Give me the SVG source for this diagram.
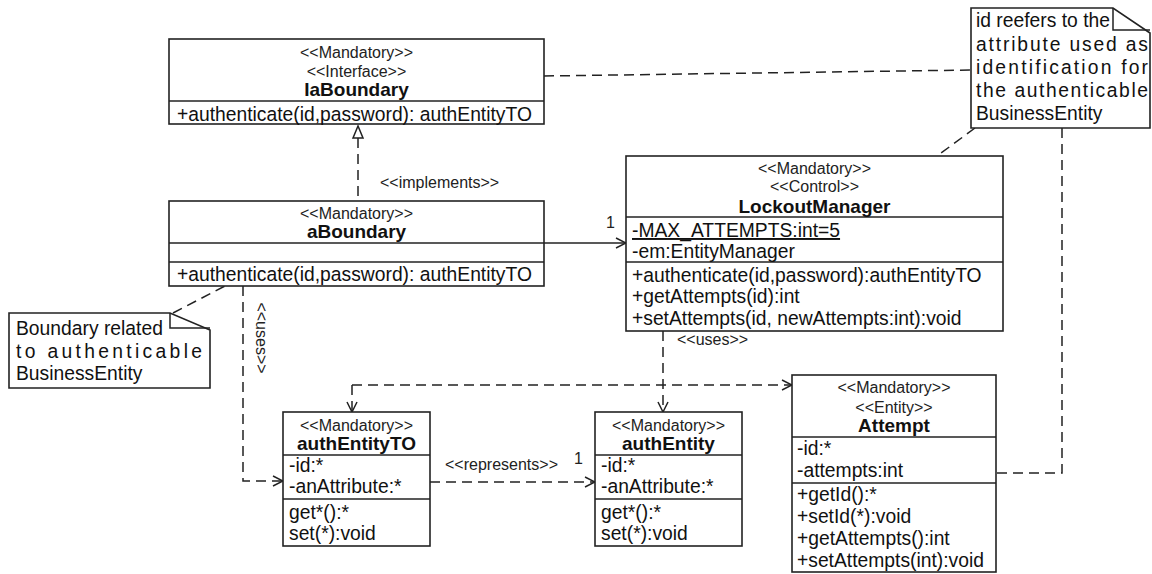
<svg xmlns="http://www.w3.org/2000/svg" width="1152" height="574" viewBox="0 0 1152 574">
  <style>
    .box{fill:#fff;stroke:#222;stroke-width:1.6}
    .sep{stroke:#222;stroke-width:1.6}
    .st{font-family:"Liberation Sans",Arial,sans-serif;font-size:16px;fill:#222;text-anchor:middle}
    .tt{font-family:"Liberation Sans",Arial,sans-serif;font-size:19px;font-weight:bold;fill:#111;text-anchor:middle}
    .m{font-family:"Liberation Sans",Arial,sans-serif;font-size:19.3px;fill:#111}
    .lbl{font-family:"Liberation Sans",Arial,sans-serif;font-size:16px;fill:#222}
    .dash{fill:none;stroke:#222;stroke-width:1.5;stroke-dasharray:10 6}
    .solid{fill:none;stroke:#222;stroke-width:1.5}
  </style>
  <defs>
    <marker id="open" viewBox="0 0 12 12" refX="11" refY="6" markerWidth="12" markerHeight="12" markerUnits="userSpaceOnUse" orient="auto">
      <path d="M1,1 L11,6 L1,11" fill="none" stroke="#222" stroke-width="1.5"/>
    </marker>
  </defs>
  <rect width="1152" height="574" fill="#fff"/>

  <!-- connectors -->
  <g id="connectors">
    <!-- note links -->
    <path class="dash" d="M544,76 L971,70"/>
    <path class="dash" d="M975,128 L937,156"/>
    <path class="dash" d="M1062,128 V473 H996"/>
    <path class="dash" d="M173,313 L225,286"/>
    <!-- realization -->
    <path class="dash" d="M358,138 V201"/>
    <polygon points="358,126 353,138 363,138" fill="#fff" stroke="#222" stroke-width="1.5"/>
    <text class="lbl" x="380" y="188">&lt;&lt;implements&gt;&gt;</text>
    <!-- association -->
    <path class="solid" d="M544,243 H626" marker-end="url(#open)"/>
    <text class="lbl" x="606" y="228">1</text>
    <!-- aBoundary uses authEntityTO -->
    <path class="dash" d="M243,286 V481 H283" marker-end="url(#open)"/>
    <text class="lbl" text-anchor="middle" transform="translate(256,338) rotate(90)">&lt;&lt;uses&gt;&gt;</text>
    <!-- LockoutManager uses -->
    <path class="dash" d="M663,331 V412" marker-end="url(#open)"/>
    <path class="dash" d="M352,385 V412" marker-end="url(#open)"/>
    <path class="dash" d="M352,385 H792" marker-end="url(#open)"/>
    <text class="lbl" x="677" y="345">&lt;&lt;uses&gt;&gt;</text>
    <!-- represents -->
    <path class="dash" d="M430,482 H595" marker-end="url(#open)"/>
    <text class="lbl" x="445" y="470">&lt;&lt;represents&gt;&gt;</text>
    <text class="lbl" x="574" y="464">1</text>
  </g>

  <!-- IaBoundary -->
  <g id="IaBoundary">
    <rect class="box" x="169" y="39" width="375" height="85"/>
    <line class="sep" x1="169" y1="101" x2="544" y2="101"/>
    <text class="st" x="356.5" y="58">&lt;&lt;Mandatory&gt;&gt;</text>
    <text class="st" x="356.5" y="77">&lt;&lt;Interface&gt;&gt;</text>
    <text class="tt" x="356.5" y="96">IaBoundary</text>
    <text class="m" x="177" y="121">+authenticate(id,password): authEntityTO</text>
  </g>

  <!-- aBoundary -->
  <g id="aBoundary">
    <rect class="box" x="169" y="201" width="375" height="85"/>
    <line class="sep" x1="169" y1="243" x2="544" y2="243"/>
    <line class="sep" x1="169" y1="262" x2="544" y2="262"/>
    <text class="st" x="356.5" y="219">&lt;&lt;Mandatory&gt;&gt;</text>
    <text class="tt" x="356.5" y="238">aBoundary</text>
    <text class="m" x="177" y="281">+authenticate(id,password): authEntityTO</text>
  </g>

  <!-- LockoutManager -->
  <g id="LockoutManager">
    <rect class="box" x="626" y="156" width="377" height="175"/>
    <line class="sep" x1="626" y1="217" x2="1003" y2="217"/>
    <line class="sep" x1="626" y1="262" x2="1003" y2="262"/>
    <text class="st" x="814.5" y="174">&lt;&lt;Mandatory&gt;&gt;</text>
    <text class="st" x="814.5" y="192">&lt;&lt;Control&gt;&gt;</text>
    <text class="tt" x="814.5" y="213">LockoutManager</text>
    <text class="m" x="632" y="237" text-decoration="underline">-MAX_ATTEMPTS:int=5</text>
    <text class="m" x="632" y="258">-em:EntityManager</text>
    <text class="m" x="632" y="282">+authenticate(id,password):authEntityTO</text>
    <text class="m" x="632" y="303">+getAttempts(id):int</text>
    <text class="m" x="632" y="325">+setAttempts(id, newAttempts:int):void</text>
  </g>

  <!-- authEntityTO -->
  <g id="authEntityTO">
    <rect class="box" x="283" y="412" width="147" height="134"/>
    <line class="sep" x1="283" y1="455" x2="430" y2="455"/>
    <line class="sep" x1="283" y1="499" x2="430" y2="499"/>
    <text class="st" x="356.5" y="431">&lt;&lt;Mandatory&gt;&gt;</text>
    <text class="tt" x="356.5" y="450">authEntityTO</text>
    <text class="m" x="289" y="472">-id:*</text>
    <text class="m" x="289" y="493">-anAttribute:*</text>
    <text class="m" x="289" y="519">get*():*</text>
    <text class="m" x="289" y="540">set(*):void</text>
  </g>

  <!-- authEntity -->
  <g id="authEntity">
    <rect class="box" x="595" y="412" width="147" height="134"/>
    <line class="sep" x1="595" y1="455" x2="742" y2="455"/>
    <line class="sep" x1="595" y1="499" x2="742" y2="499"/>
    <text class="st" x="668.5" y="431">&lt;&lt;Mandatory&gt;&gt;</text>
    <text class="tt" x="668.5" y="450">authEntity</text>
    <text class="m" x="601" y="472">-id:*</text>
    <text class="m" x="601" y="493">-anAttribute:*</text>
    <text class="m" x="601" y="519">get*():*</text>
    <text class="m" x="601" y="540">set(*):void</text>
  </g>

  <!-- Attempt -->
  <g id="Attempt">
    <rect class="box" x="792" y="375" width="204" height="197"/>
    <line class="sep" x1="792" y1="437" x2="996" y2="437"/>
    <line class="sep" x1="792" y1="483" x2="996" y2="483"/>
    <text class="st" x="894" y="393">&lt;&lt;Mandatory&gt;&gt;</text>
    <text class="st" x="894" y="413">&lt;&lt;Entity&gt;&gt;</text>
    <text class="tt" x="894" y="432">Attempt</text>
    <text class="m" x="797" y="455">-id:*</text>
    <text class="m" x="797" y="477">-attempts:int</text>
    <text class="m" x="797" y="501">+getId():*</text>
    <text class="m" x="797" y="523">+setId(*):void</text>
    <text class="m" x="797" y="545">+getAttempts():int</text>
    <text class="m" x="797" y="567">+setAttempts(int):void</text>
  </g>

  <!-- note on identification -->
  <g id="noteId">
    <path class="box" d="M971,8 H1113 L1150,33 V128 H971 Z"/>
    <path class="solid" d="M1113,8 V30 H1150"/>
    <text class="m" x="976" y="27">id reefers to the</text>
    <text class="m" x="976" y="51" textLength="172" lengthAdjust="spacing">attribute used as</text>
    <text class="m" x="976" y="74" textLength="172" lengthAdjust="spacing">identification for</text>
    <text class="m" x="976" y="97" textLength="172" lengthAdjust="spacing">the authenticable</text>
    <text class="m" x="976" y="120">BusinessEntity</text>
  </g>

  <!-- note on boundary -->
  <g id="noteBoundary">
    <path class="box" d="M9,313 H170 L210,330 V388 H9 Z"/>
    <path class="solid" d="M170,313 V328 H210"/>
    <text class="m" x="16" y="335">Boundary related</text>
    <text class="m" x="16" y="358" textLength="186" lengthAdjust="spacing">to authenticable</text>
    <text class="m" x="16" y="380">BusinessEntity</text>
  </g>
</svg>
